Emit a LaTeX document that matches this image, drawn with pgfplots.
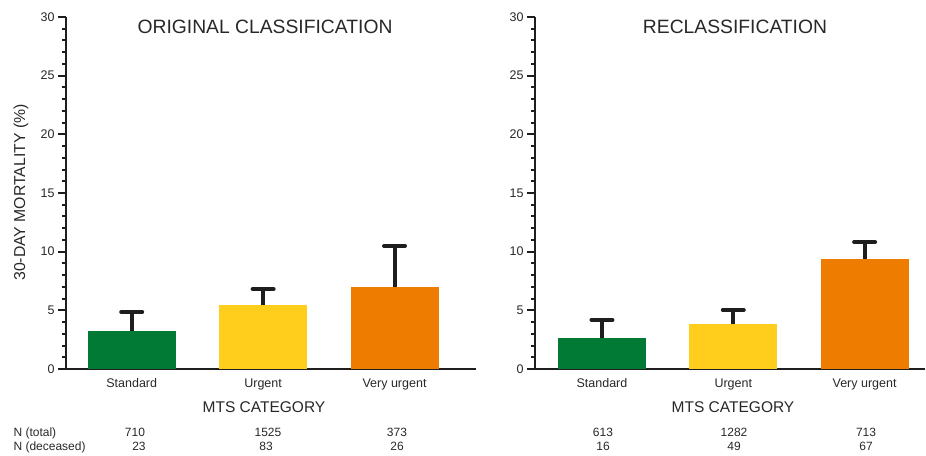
\documentclass[border=0pt]{standalone}
\usepackage{pgfplots}
\pgfplotsset{compat=1.18}
\usepackage{fontspec}
\setmainfont{Liberation Sans}
\definecolor{cgreen}{RGB}{0,122,52}
\definecolor{cyellow}{RGB}{255,205,28}
\definecolor{corange}{RGB}{238,124,0}
\definecolor{axcol}{RGB}{30,30,30}
\definecolor{txt}{RGB}{40,40,40}
\pgfplotsset{
  mtsaxis/.style={
    scale only axis, height=352pt, ymin=0, ymax=30,
    axis x line=bottom, axis y line=left,
    axis line style={-, line width=2.6pt, color=axcol},
    ytick={0,5,...,30}, minor y tick num=4,
    tick align=outside, major tick length=8pt, minor tick length=4pt,
    y tick style={line width=2pt, color=axcol},
    minor y tick style={line width=2pt, color=axcol},
    x tick style={draw=none},
    xtick={0,1,2}, xticklabels={Standard,Urgent,Very urgent},
    xticklabel style={font=\fontsize{12.5}{14}\selectfont, text=txt, yshift=2.5pt, text height=9pt, text depth=2.5pt},
    yticklabel style={font=\fontsize{12.5}{14}\selectfont, text=txt},
    /pgf/number format/assume math mode=true,
    clip=false,
  },
  mtsbar/.style={ybar, bar width=88pt, bar shift=0pt, draw=none, fill=#1,
    error bars/.cd, y dir=plus, y explicit,
    error bar style={line width=4pt, color=axcol},
    error mark options={rotate=90, line width=4pt, mark size=10.5pt, color=axcol, line cap=round}},
}
\begin{document}
\begin{tikzpicture}
\path[use as bounding box] (0,0) rectangle (926pt,455pt);
% Left panel
\begin{axis}[mtsaxis, at={(66pt,86pt)}, anchor=south west, width=410pt, xmin=-0.5, xmax=2.62]
\addplot[mtsbar=cgreen] coordinates {(0,3.24) +- (0,1.62)};
\addplot[mtsbar=cyellow] coordinates {(1,5.44) +- (0,1.38)};
\addplot[mtsbar=corange] coordinates {(2,6.97) +- (0,3.52)};
\end{axis}
% Right panel
\begin{axis}[mtsaxis, at={(535pt,86pt)}, anchor=south west, width=390pt, xmin=-0.51, xmax=2.46]
\addplot[mtsbar=cgreen] coordinates {(0,2.61) +- (0,1.57)};
\addplot[mtsbar=cyellow] coordinates {(1,3.82) +- (0,1.21)};
\addplot[mtsbar=corange] coordinates {(2,9.40) +- (0,1.43)};
\end{axis}
% Titles
\node[font=\fontsize{19.3}{21}\selectfont, text=txt] at (265pt,428.5pt) {ORIGINAL CLASSIFICATION};
\node[font=\fontsize{19.3}{21}\selectfont, text=txt] at (735pt,428.5pt) {RECLASSIFICATION};
% y label
\node[font=\fontsize{15.8}{18}\selectfont, text=txt, rotate=90] at (21pt,262.5pt) {30-DAY MORTALITY (\%)};
% x labels
\node[font=\fontsize{15.5}{17}\selectfont, text=txt] at (264pt,47.5pt) {MTS CATEGORY};
\node[font=\fontsize{15.5}{17}\selectfont, text=txt] at (733pt,47.5pt) {MTS CATEGORY};
% N rows
\begin{scope}[every node/.style={font=\fontsize{12}{14}\selectfont, text=txt, text height=8.6pt, text depth=2.5pt}]
\node[anchor=west] at (10pt,22pt) {N (total)};
\node[anchor=west] at (10pt,7.5pt) {N (deceased)};
\node at (135pt,22pt) {710};  \node at (139pt,7.5pt) {23};
\node at (268pt,22pt) {1525}; \node at (266pt,7.5pt) {83};
\node at (397pt,22pt) {373};  \node at (397pt,7.5pt) {26};
\node at (603pt,22pt) {613};  \node at (603pt,7.5pt) {16};
\node at (734pt,22pt) {1282}; \node at (734pt,7.5pt) {49};
\node at (866pt,22pt) {713};  \node at (866pt,7.5pt) {67};
\end{scope}
\end{tikzpicture}
\end{document}
